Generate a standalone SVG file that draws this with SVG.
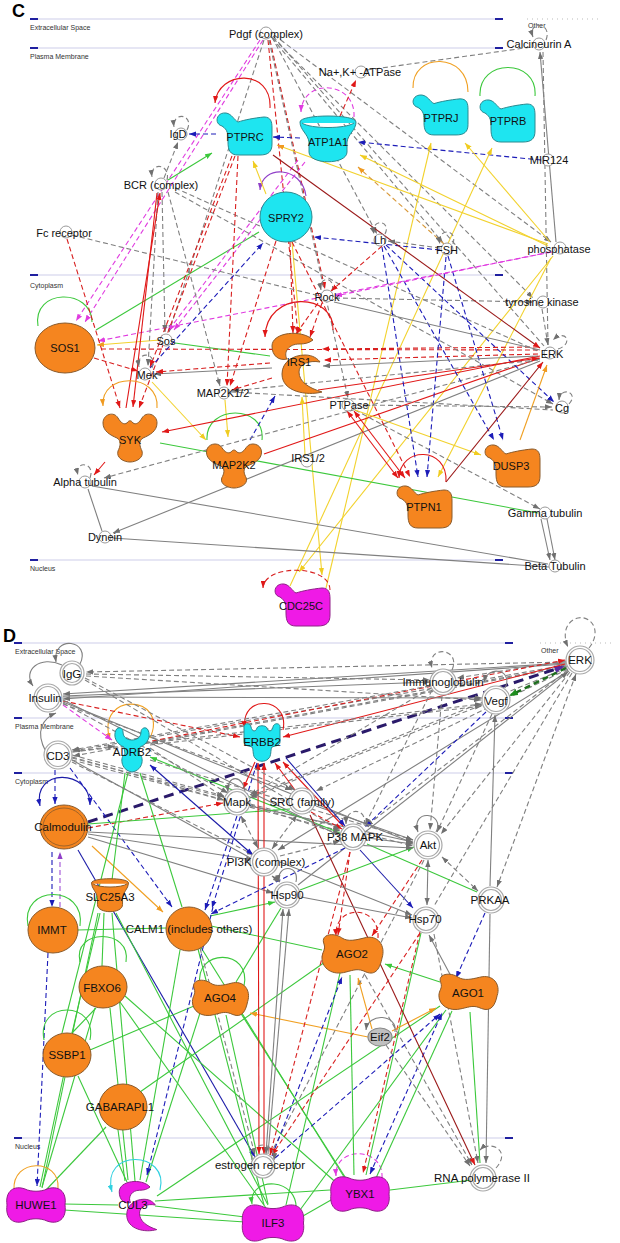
<svg xmlns="http://www.w3.org/2000/svg" xmlns:xlink="http://www.w3.org/1999/xlink" width="620" height="1243" viewBox="0 0 620 1243">
<style>
line,path.c{fill:none;stroke-width:1.1}
.g{stroke:#808080}
.gd{stroke:#808080;stroke-dasharray:5 3}
.r{stroke:#e01818}
.rd{stroke:#d82020;stroke-dasharray:5 3}
.dr{stroke:#9a1818}
.b{stroke:#1c1ca8}
.bd{stroke:#1c1cb8;stroke-dasharray:5 3}
.y{stroke:#f2d22e}
.o{stroke:#f0a022}
.od{stroke:#d89838;stroke-dasharray:5 3}
.gn{stroke:#3cc83c}
.md{stroke:#e03ce0;stroke-dasharray:5 3}
.pu{stroke:#9040c8}
.pud{stroke:#a050d8;stroke-dasharray:5 3}
.nv{stroke:#2a1a6a;stroke-width:3;stroke-dasharray:10 6}
.dgd{stroke:#1e6e1e;stroke-width:2.5;stroke-dasharray:6 4}
.cy{stroke:#30d0e0}
.ag{marker-end:url(#mg)} .sg{marker-start:url(#mg)}
.ar{marker-end:url(#mr)} .sr{marker-start:url(#mr)}
.ab{marker-end:url(#mb)} .sb{marker-start:url(#mb)}
.ay{marker-end:url(#my)} .ao{marker-end:url(#mo)}
.agn{marker-end:url(#mgn)} .am{marker-end:url(#mm)} .ap{marker-end:url(#mp)}
.anv{marker-end:url(#mnv)} .adg{marker-end:url(#mdg)} .acy{marker-end:url(#mcy)}
.t{font-family:"Liberation Sans",Arial,sans-serif;font-size:11px;fill:#111;text-anchor:middle}
.td{font-family:"Liberation Sans",Arial,sans-serif;font-size:11.5px;fill:#111;text-anchor:middle}
.rl{font-family:"Liberation Sans",Arial,sans-serif;font-size:7px;fill:#333}
.hd{font-family:"Liberation Sans",Arial,sans-serif;font-size:18px;font-weight:bold;fill:#000}
.rg{stroke:#dedef0;stroke-width:1.6}
.bdash{stroke:#2020a0;stroke-width:2}
.sm{fill:#fff;stroke:#9a9a9a;stroke-width:1}
.dc{fill:#fff;stroke:#a8a8a8;stroke-width:1.2}
.or{fill:#f5851f;stroke:#8a5a2a;stroke-width:1}
.cyn{fill:#1ee5f0;stroke:#2a8a90;stroke-width:1}
.mag{fill:#ef1ae6;stroke:#902088;stroke-width:1}
</style>
<defs>
<marker id="mg" viewBox="0 0 8 6" refX="8" refY="3" markerWidth="7" markerHeight="5.5" markerUnits="userSpaceOnUse" orient="auto-start-reverse"><path d="M0,0L8,3L0,6z" fill="#707070"/></marker>
<marker id="mr" viewBox="0 0 8 6" refX="8" refY="3" markerWidth="7" markerHeight="5.5" markerUnits="userSpaceOnUse" orient="auto-start-reverse"><path d="M0,0L8,3L0,6z" fill="#e01818"/></marker>
<marker id="mb" viewBox="0 0 8 6" refX="8" refY="3" markerWidth="7" markerHeight="5.5" markerUnits="userSpaceOnUse" orient="auto-start-reverse"><path d="M0,0L8,3L0,6z" fill="#1c1cb8"/></marker>
<marker id="my" viewBox="0 0 8 6" refX="8" refY="3" markerWidth="7" markerHeight="5.5" markerUnits="userSpaceOnUse" orient="auto-start-reverse"><path d="M0,0L8,3L0,6z" fill="#f0cc20"/></marker>
<marker id="mo" viewBox="0 0 8 6" refX="8" refY="3" markerWidth="7" markerHeight="5.5" markerUnits="userSpaceOnUse" orient="auto-start-reverse"><path d="M0,0L8,3L0,6z" fill="#f09a20"/></marker>
<marker id="mgn" viewBox="0 0 8 6" refX="8" refY="3" markerWidth="7" markerHeight="5.5" markerUnits="userSpaceOnUse" orient="auto-start-reverse"><path d="M0,0L8,3L0,6z" fill="#3cc83c"/></marker>
<marker id="mm" viewBox="0 0 8 6" refX="8" refY="3" markerWidth="7" markerHeight="5.5" markerUnits="userSpaceOnUse" orient="auto-start-reverse"><path d="M0,0L8,3L0,6z" fill="#e03ce0"/></marker>
<marker id="mp" viewBox="0 0 8 6" refX="8" refY="3" markerWidth="7" markerHeight="5.5" markerUnits="userSpaceOnUse" orient="auto-start-reverse"><path d="M0,0L8,3L0,6z" fill="#9040c8"/></marker>
<marker id="mnv" viewBox="0 0 8 6" refX="6" refY="3" markerWidth="10" markerHeight="8" markerUnits="userSpaceOnUse" orient="auto"><path d="M0,0L8,3L0,6z" fill="#5a2aa0"/></marker>
<marker id="mdg" viewBox="0 0 8 6" refX="6" refY="3" markerWidth="9" markerHeight="7" markerUnits="userSpaceOnUse" orient="auto"><path d="M0,0L8,3L0,6z" fill="#1e8e1e"/></marker>
<marker id="mcy" viewBox="0 0 8 6" refX="8" refY="3" markerWidth="7" markerHeight="5.5" markerUnits="userSpaceOnUse" orient="auto"><path d="M0,0L8,3L0,6z" fill="#30d0e0"/></marker>
<path id="phos" vector-effect="non-scaling-stroke" d="M-22,-8 C-30,-10 -28,-22 -18,-21 C-12,-20 -10,-14 -6,-12 C0,-14 10,-16 20,-17 C27,-17 28,-12 28,-6 L28,10 C28,18 24,21 16,21 L-6,21 C-14,21 -16,16 -16,8 C-16,0 -16,-4 -22,-8 Z"/>
<path id="kin" vector-effect="non-scaling-stroke" d="M-27,-14 C-27,-23 -16,-26 -12,-19 C-9,-14 -6,-12 -3,-14 C-1,-17 1,-17 3,-14 C6,-12 9,-14 12,-19 C16,-26 27,-23 27,-14 C27,-6 20,-2 13,1 C8,4 10,10 12,14 C14,21 6,25 0,25 C-6,25 -14,21 -12,14 C-10,10 -8,4 -13,1 C-20,-2 -27,-6 -27,-14 Z"/>
<path id="chan" vector-effect="non-scaling-stroke" d="M-28,-18 C-28,-26 28,-26 28,-18 C28,-10 20,-6 19,2 L19,12 C19,25 -19,25 -19,12 L-19,2 C-20,-6 -28,-10 -28,-18 Z M-26,-17 C-18,-11 18,-11 26,-17"/>
<path id="crs" vector-effect="non-scaling-stroke" d="M16,-22 C5,-33 -25,-30 -25,-16 C-25,-6 -18,-1 -10,-3 C-14,-10 -8,-18 2,-18 C8,-18 12,-19 16,-22 Z M25,30 C10,34 -15,30 -15,12 C-15,0 -4,-7 8,-7 C16,-7 21,-3 23,0 C12,-2 2,2 2,10 C2,20 12,26 25,30 Z"/>
<path id="tmr" vector-effect="non-scaling-stroke" d="M-16,-20 C-19,-14 -16,-6 -8,-3 L-7,4 C-12,6 -12,20 0,22 C12,20 12,6 7,4 L8,-3 C16,-6 19,-14 16,-20 C14,-24 9,-22 9,-18 C9,-12 4,-10 0,-10 C-4,-10 -9,-12 -9,-18 C-9,-22 -14,-24 -16,-20 Z"/>
<path id="erb" vector-effect="non-scaling-stroke" d="M-18,-14 C-19,-19 -12,-20 -11,-15 C-10,-10 -6,-10 -5,-14 C-4,-17 4,-17 5,-14 C6,-10 10,-10 11,-15 C12,-20 19,-19 18,-14 L18,0 C18,4 12,4 10,5 C8,8 10,14 6,17 C3,20 -3,20 -6,17 C-10,14 -8,8 -10,5 C-12,4 -18,4 -18,0 Z"/>
<path id="trl" vector-effect="non-scaling-stroke" d="M-28,-10 C-32,-20 -18,-22 -10,-16 C-4,-12 4,-14 12,-16 C26,-20 34,-8 30,4 C28,14 24,22 14,18 C6,14 2,16 -6,18 C-20,22 -30,14 -30,4 C-30,-2 -26,-4 -28,-10 Z"/>
<path id="bow" vector-effect="non-scaling-stroke" d="M-29,0 C-31,-14 -22,-20 -11,-16 C-5,-13 5,-13 11,-16 C22,-20 31,-14 29,0 C31,14 22,20 11,16 C5,13 -5,13 -11,16 C-22,20 -31,14 -29,0 Z"/>
</defs>

<g id="regions">
<text class="hd" x="12" y="17">C</text>
<line class="rg" x1="30" y1="19" x2="503" y2="19"/><line class="bdash" x1="30" y1="19" x2="38" y2="19"/><line class="bdash" x1="495" y1="19" x2="503" y2="19"/>
<line x1="527" y1="19" x2="600" y2="19" stroke="#bbb" stroke-width="1" stroke-dasharray="1 4"/>
<text class="rl" x="30" y="30">Extracellular Space</text>
<text class="rl" x="528" y="28" font-size="6">Other</text>
<line class="rg" x1="30" y1="48" x2="503" y2="48"/><line class="bdash" x1="30" y1="48" x2="38" y2="48"/><line class="bdash" x1="495" y1="48" x2="503" y2="48"/>
<text class="rl" x="30" y="59">Plasma Membrane</text>
<line class="rg" x1="30" y1="275" x2="503" y2="275"/><line class="bdash" x1="30" y1="275" x2="38" y2="275"/><line class="bdash" x1="495" y1="275" x2="503" y2="275"/>
<text class="rl" x="30" y="288">Cytoplasm</text>
<line class="rg" x1="30" y1="560" x2="503" y2="560"/><line class="bdash" x1="30" y1="560" x2="38" y2="560"/><line class="bdash" x1="495" y1="560" x2="503" y2="560"/>
<text class="rl" x="30" y="571">Nucleus</text>
<text class="hd" x="3" y="642">D</text>
<line class="rg" x1="14" y1="643" x2="513" y2="643"/><line class="bdash" x1="14" y1="643" x2="22" y2="643"/><line class="bdash" x1="505" y1="643" x2="513" y2="643"/>
<line x1="540" y1="643" x2="615" y2="643" stroke="#bbb" stroke-width="1" stroke-dasharray="1 4"/>
<text class="rl" x="15" y="654">Extracellular Space</text>
<text class="rl" x="541" y="653" font-size="6">Other</text>
<line class="rg" x1="14" y1="718" x2="513" y2="718"/><line class="bdash" x1="14" y1="718" x2="22" y2="718"/><line class="bdash" x1="505" y1="718" x2="513" y2="718"/>
<text class="rl" x="15" y="729">Plasma Membrane</text>
<line class="rg" x1="14" y1="773" x2="513" y2="773"/><line class="bdash" x1="14" y1="773" x2="22" y2="773"/><line class="bdash" x1="505" y1="773" x2="513" y2="773"/>
<text class="rl" x="15" y="784">Cytoplasm</text>
<line class="rg" x1="14" y1="1138" x2="513" y2="1138"/><line class="bdash" x1="14" y1="1138" x2="22" y2="1138"/><line class="bdash" x1="505" y1="1138" x2="513" y2="1138"/>
<text class="rl" x="15" y="1149">Nucleus</text>
</g>

<g id="connectors">
<line class="md am" x1="260" y1="40" x2="76" y2="321"/>
<line class="md am" x1="263" y1="40" x2="85" y2="322"/>
<line class="gd ag" x1="264" y1="40" x2="169" y2="332"/>
<line class="rd ar" x1="268" y1="40" x2="298" y2="334"/>
<line class="rd ar" x1="270" y1="40" x2="325" y2="289"/>
<line class="gd ag" x1="269" y1="40" x2="348" y2="398"/>
<line class="gd ag" x1="272" y1="38" x2="443" y2="243"/>
<line class="gd ag" x1="272" y1="37" x2="377" y2="234"/>
<line class="gd" x1="273" y1="36" x2="544" y2="346"/>
<line class="gd ag" x1="274" y1="35" x2="551" y2="242"/>
<line class="gd ag" x1="273" y1="38" x2="533" y2="298"/>
<line class="gd" x1="367" y1="70" x2="532" y2="47"/>
<path class="c gd ag" d="M546,40 C553,22 527,20 533,37"/>
<line class="g ag" x1="556" y1="242" x2="540" y2="52"/>
<line class="gd" x1="543" y1="52" x2="548" y2="345"/>
<line class="bd ab" x1="541" y1="160" x2="358" y2="142"/>
<line class="bd ab" x1="300" y1="138" x2="273" y2="137"/>
<line class="bd ab" x1="216" y1="134" x2="189" y2="134"/>
<line class="gd ag" x1="164" y1="178" x2="178" y2="142"/>
<path class="c gd ag" d="M187,130 C195,114 172,111 174,127"/>
<path class="c gd ag" d="M167,180 C171,164 150,161 152,177"/>
<line class="gn agn" x1="168" y1="180" x2="212" y2="153"/>
<path class="c r ar" d="M270,108 C272,68 218,70 215,103"/>
<path class="c md am" d="M354,117 C356,80 302,78 301,112"/>
<line class="rd ar" x1="340" y1="116" x2="356" y2="80"/>
<path class="c o" d="M413,88 C412,52 468,52 468,92"/>
<path class="c gn" d="M480,96 C478,58 538,58 535,96"/>
<path class="c pu ap" d="M306,196 C302,166 262,164 260,190"/>
<line class="y ay" x1="266" y1="194" x2="253" y2="161"/>
<line class="y ao" x1="548" y1="244" x2="277" y2="145"/>
<line class="y ay" x1="548" y1="246" x2="360" y2="155"/>
<line class="od ao" x1="444" y1="244" x2="358" y2="167"/>
<line class="y ay" x1="550" y1="242" x2="465" y2="143"/>
<line class="y ay" x1="326" y1="588" x2="431" y2="143"/>
<line class="y ay" x1="290" y1="586" x2="492" y2="148"/>
<line class="y ay" x1="553" y1="256" x2="299" y2="572"/>
<line class="y ay" x1="551" y1="258" x2="438" y2="477"/>
<line class="y ay" x1="292" y1="242" x2="322" y2="575"/>
<path class="c gn" d="M38,326 C32,288 92,288 92,322"/>
<line class="gn" x1="96" y1="330" x2="259" y2="232"/>
<line class="gn" x1="175" y1="343" x2="270" y2="356"/>
<line class="y ao" x1="160" y1="340" x2="97" y2="345"/>
<line class="md am" x1="552" y1="252" x2="98" y2="341"/>
<line class="md am" x1="305" y1="162" x2="174" y2="330"/>
<line class="md am" x1="298" y1="160" x2="168" y2="331"/>
<line class="rd" x1="538" y1="350" x2="98" y2="349"/>
<line class="rd ar" x1="538" y1="354" x2="324" y2="360"/>
<line class="rd ar" x1="538" y1="347" x2="322" y2="349"/>
<line class="rd ar" x1="94" y1="358" x2="138" y2="371"/>
<line class="rd ar" x1="67" y1="239" x2="120" y2="408"/>
<line class="gd" x1="72" y1="235" x2="320" y2="296"/>
<line class="gd" x1="175" y1="188" x2="540" y2="352"/>
<line class="gd ag" x1="175" y1="192" x2="553" y2="404"/>
<line class="gd ag" x1="162" y1="192" x2="165" y2="332"/>
<line class="gd ag" x1="158" y1="192" x2="148" y2="366"/>
<line class="gd ag" x1="168" y1="192" x2="220" y2="386"/>
<line class="r ar" x1="126" y1="408" x2="160" y2="193"/>
<line class="r ar" x1="157" y1="193" x2="133" y2="407"/>
<line class="rd ar" x1="232" y1="156" x2="150" y2="367"/>
<line class="rd ar" x1="235" y1="156" x2="139" y2="408"/>
<line class="rd ar" x1="238" y1="156" x2="227" y2="386"/>
<line class="rd ar" x1="276" y1="241" x2="230" y2="386"/>
<line class="rd ar" x1="290" y1="242" x2="293" y2="333"/>
<line class="bd ab" x1="150" y1="368" x2="263" y2="243"/>
<path class="c gd ag" d="M152,368 C158,352 136,350 139,367"/>
<line class="g ag" x1="272" y1="368" x2="154" y2="374"/>
<line class="rd ar" x1="270" y1="363" x2="156" y2="372"/>
<line class="rd ar" x1="272" y1="378" x2="232" y2="390"/>
<line class="y ay" x1="152" y1="382" x2="206" y2="440"/>
<line class="y ay" x1="225" y1="400" x2="228" y2="437"/>
<path class="c gn" d="M262,440 C266,404 205,404 207,440"/>
<line class="bd ab" x1="250" y1="440" x2="275" y2="396"/>
<path class="c o ao" d="M157,408 C160,372 100,372 103,406"/>
<line class="r ar" x1="540" y1="356" x2="162" y2="432"/>
<line class="r" x1="540" y1="358" x2="264" y2="454"/>
<line class="gn" x1="160" y1="443" x2="538" y2="513"/>
<line class="gd ag" x1="540" y1="359" x2="104" y2="478"/>
<line class="g ag" x1="540" y1="361" x2="113" y2="533"/>
<line class="g" x1="88" y1="489" x2="102" y2="531"/>
<line class="g" x1="92" y1="486" x2="548" y2="564"/>
<line class="g" x1="112" y1="538" x2="549" y2="567"/>
<line class="g ag" x1="541" y1="519" x2="550" y2="560"/>
<line class="g ag" x1="547" y1="519" x2="555" y2="560"/>
<path class="c gd ag" d="M90,478 C96,462 74,460 78,475"/>
<line class="r ar" x1="105" y1="462" x2="94" y2="475"/>
<line class="gd ag" x1="355" y1="410" x2="540" y2="509"/>
<line class="y ay" x1="355" y1="410" x2="481" y2="455"/>
<line class="r ar sr" x1="347" y1="411" x2="398" y2="478"/>
<line class="r ar sr" x1="354" y1="411" x2="405" y2="478"/>
<line class="y ay" x1="305" y1="455" x2="302" y2="397"/>
<line class="bd ab" x1="382" y1="247" x2="418" y2="477"/>
<line class="bd ab" x1="446" y1="257" x2="427" y2="477"/>
<line class="bd ab" x1="384" y1="246" x2="494" y2="440"/>
<line class="bd ab" x1="448" y1="256" x2="503" y2="440"/>
<line class="bd ab" x1="386" y1="245" x2="554" y2="402"/>
<line class="bd ab" x1="440" y1="250" x2="314" y2="237"/>
<path class="c r ar" d="M446,482 C448,446 400,446 399,478"/>
<line class="dr ar" x1="446" y1="482" x2="543" y2="362"/>
<line class="o ao" x1="520" y1="440" x2="547" y2="365"/>
<line class="rd ar" x1="292" y1="242" x2="410" y2="477"/>
<line class="gd ag" x1="335" y1="298" x2="533" y2="302"/>
<line class="g" x1="334" y1="302" x2="540" y2="350"/>
<path class="c gd ag" d="M332,291 C336,276 318,276 321,290"/>
<line class="rd ar" x1="322" y1="303" x2="310" y2="337"/>
<line class="rd ar" x1="318" y1="303" x2="296" y2="334"/>
<path class="c r ar" d="M333,330 C335,292 266,290 265,337"/>
<line class="gd ag" x1="356" y1="405" x2="552" y2="407"/>
<line class="gd" x1="231" y1="392" x2="553" y2="410"/>
<line class="dr ar" x1="273" y1="155" x2="540" y2="348"/>
<path class="c gd ag" d="M385,234 C392,220 370,218 374,234"/>
<path class="c gd ag" d="M453,244 C458,228 436,228 440,244"/>
<line class="gd ag" x1="440" y1="248" x2="388" y2="241"/>
<line class="gd ag" x1="542" y1="309" x2="548" y2="345"/>
<path class="c gd ag" d="M558,349 C574,344 566,328 553,340"/>
<path class="c gd ag" d="M569,404 C580,392 560,386 559,400"/>
<line class="md am" x1="550" y1="252" x2="335" y2="296"/>
<path class="c rd ar" d="M330,590 C330,564 264,564 263,588"/>
<line class="rd ar" x1="382" y1="246" x2="331" y2="291"/>
<line class="g ag" x1="538" y1="356" x2="323" y2="366"/>
<line class="gd ag" x1="538" y1="360" x2="232" y2="391"/>
<line class="r ar" x1="318" y1="390" x2="539" y2="358"/>

<line class="gd ag" x1="566" y1="662" x2="86" y2="672"/>
<line class="g ag" x1="566" y1="663" x2="63" y2="694"/>
<line class="g ag" x1="566" y1="664" x2="63" y2="699"/>
<line class="gd ag" x1="566" y1="665" x2="73" y2="751"/>
<line class="gd ag" x1="567" y1="666" x2="73" y2="756"/>
<line class="gd ag" x1="567" y1="667" x2="151" y2="743"/>
<line class="gd ag" x1="567" y1="668" x2="251" y2="796"/>
<line class="gd ag" x1="568" y1="669" x2="316" y2="791"/>
<line class="gd ag" x1="568" y1="670" x2="366" y2="826"/>
<line class="g ag" x1="569" y1="671" x2="278" y2="850"/>
<line class="gd ag" x1="570" y1="672" x2="441" y2="834"/>
<line class="gd" x1="572" y1="673" x2="434" y2="906"/>
<line class="gd ag sg" x1="576" y1="674" x2="497" y2="887"/>
<line class="gd ag" x1="566" y1="661" x2="457" y2="678"/>
<line class="dgd adg" x1="566" y1="668" x2="511" y2="695"/>
<line class="nv anv" x1="88" y1="822" x2="562" y2="667"/>
<line class="r ar" x1="565" y1="664" x2="283" y2="737"/>
<line class="rd ar" x1="152" y1="741" x2="565" y2="660"/>
<line class="g ag" x1="298" y1="885" x2="568" y2="672"/>
<path class="c gd ag" d="M589,648 C603,630 590,615 578,618 C566,621 562,634 568,647"/>
<path class="c g ag" d="M505,688 C514,670 488,664 484,682"/>
<path class="c gd ag" d="M452,670 C462,648 426,644 432,668"/>
<line class="gd ag" x1="86" y1="676" x2="481" y2="700"/>
<line class="gd ag" x1="73" y1="752" x2="482" y2="704"/>
<line class="g ag" x1="63" y1="697" x2="482" y2="698"/>
<line class="gd ag" x1="150" y1="745" x2="482" y2="706"/>
<line class="g ag" x1="63" y1="696" x2="430" y2="682"/>
<line class="gd ag" x1="86" y1="674" x2="430" y2="680"/>
<line class="bd ab" x1="486" y1="712" x2="365" y2="827"/>
<line class="gd ag" x1="492" y1="714" x2="437" y2="832"/>
<line class="gd ag" x1="442" y1="696" x2="430" y2="830"/>
<line class="g ag" x1="490" y1="886" x2="495" y2="715"/>
<line class="gd ag sg" x1="442" y1="857" x2="478" y2="891"/>
<line class="gn" x1="367" y1="844" x2="477" y2="892"/>
<line class="b ab" x1="360" y1="850" x2="413" y2="908"/>
<line class="gn agn" x1="300" y1="890" x2="414" y2="847"/>
<path class="c g ag" d="M436,832 C446,812 410,808 418,832"/>
<line class="g ag sg" x1="428" y1="860" x2="427" y2="905"/>
<line class="g ag" x1="63" y1="702" x2="413" y2="843"/>
<line class="gd ag" x1="72" y1="758" x2="413" y2="846"/>
<line class="g ag" x1="88" y1="832" x2="413" y2="848"/>
<line class="gd ag" x1="150" y1="760" x2="413" y2="840"/>
<line class="g ag" x1="250" y1="806" x2="413" y2="842"/>
<line class="g ag" x1="316" y1="806" x2="413" y2="840"/>
<line class="g ag" x1="368" y1="838" x2="413" y2="844"/>
<path class="c o ao" d="M150,738 C170,695 95,690 110,740"/>
<line class="md am" x1="63" y1="705" x2="112" y2="740"/>
<line class="rd ar" x1="63" y1="701" x2="240" y2="737"/>
<path class="c r ar" d="M283,730 C290,696 240,694 245,728"/>
<path class="c g ag" d="M62,665 C40,655 22,670 33,686"/>
<path class="c g ag" d="M80,664 C92,640 52,634 56,662"/>
<path class="c g ag" d="M46,752 C34,730 44,718 56,713"/>
<line class="gd ag" x1="72" y1="752" x2="115" y2="746"/>
<line class="gd ag" x1="72" y1="757" x2="224" y2="800"/>
<line class="gd ag" x1="72" y1="755" x2="224" y2="796"/>
<line class="gd ag" x1="72" y1="760" x2="340" y2="831"/>
<line class="gd ag" x1="72" y1="762" x2="254" y2="855"/>
<line class="bd ab" x1="55" y1="770" x2="55" y2="804"/>
<path class="c b ab sb" d="M40,806 C32,768 90,768 90,805"/>
<line class="bd ab" x1="70" y1="768" x2="172" y2="907"/>
<line class="o ao" x1="92" y1="846" x2="163" y2="912"/>
<line class="rd ar" x1="88" y1="828" x2="223" y2="803"/>
<line class="gn" x1="88" y1="824" x2="290" y2="809"/>
<line class="g ag" x1="88" y1="834" x2="253" y2="860"/>
<line class="g ag" x1="88" y1="837" x2="273" y2="893"/>
<line class="b ab" x1="78" y1="850" x2="255" y2="1157"/>
<line class="pud ap" x1="60" y1="907" x2="60" y2="852"/>
<line class="bd ab" x1="52" y1="852" x2="52" y2="907"/>
<line class="bd ab" x1="48" y1="953" x2="37" y2="1186"/>
<path class="c gn" d="M28,926 C20,884 86,884 80,926"/>
<line class="gn" x1="77" y1="930" x2="166" y2="928"/>
<line class="gn" x1="104" y1="913" x2="102" y2="966"/>
<line class="gn" x1="100" y1="913" x2="72" y2="1033"/>
<line class="gn" x1="98" y1="913" x2="40" y2="1187"/>
<line class="gn" x1="112" y1="913" x2="135" y2="1181"/>
<line class="gn" x1="116" y1="913" x2="268" y2="1205"/>
<line class="gn" x1="128" y1="773" x2="62" y2="1033"/>
<line class="gn" x1="140" y1="773" x2="182" y2="907"/>
<line class="gn" x1="125" y1="773" x2="112" y2="880"/>
<line class="gn agn" x1="340" y1="833" x2="150" y2="757"/>
<line class="b ab sb" x1="150" y1="765" x2="253" y2="855"/>
<line class="gd ag" x1="150" y1="748" x2="225" y2="798"/>
<path class="c gn" d="M80,962 C72,928 132,928 126,962"/>
<path class="c gn" d="M44,1040 C36,1000 98,1000 90,1040"/>
<line class="gn" x1="96" y1="1008" x2="72" y2="1033"/>
<line class="gn" x1="95" y1="1008" x2="42" y2="1187"/>
<line class="gn" x1="110" y1="1008" x2="128" y2="1180"/>
<line class="gn" x1="120" y1="1002" x2="266" y2="1208"/>
<line class="gn" x1="125" y1="996" x2="340" y2="1186"/>
<line class="gn" x1="90" y1="1050" x2="194" y2="1006"/>
<line class="gn" x1="65" y1="1077" x2="42" y2="1188"/>
<line class="gn" x1="78" y1="1076" x2="127" y2="1182"/>
<line class="gn" x1="118" y1="1130" x2="125" y2="1181"/>
<line class="gn" x1="106" y1="1127" x2="46" y2="1190"/>
<line class="gn" x1="140" y1="1092" x2="325" y2="962"/>
<line class="gn" x1="180" y1="950" x2="140" y2="1180"/>
<line class="gn" x1="200" y1="946" x2="346" y2="1180"/>
<line class="gn" x1="211" y1="926" x2="322" y2="950"/>
<line class="gn agn" x1="210" y1="916" x2="275" y2="902"/>
<line class="gn" x1="198" y1="949" x2="264" y2="1205"/>
<line class="gn" x1="236" y1="982" x2="281" y2="908"/>
<line class="gn" x1="200" y1="1013" x2="146" y2="1182"/>
<line class="gn" x1="240" y1="1012" x2="347" y2="1180"/>
<line class="gn" x1="226" y1="1015" x2="268" y2="1204"/>
<path class="c gn" d="M200,985 C194,948 252,948 244,986"/>
<line class="o ao" x1="368" y1="1037" x2="250" y2="1013"/>
<line class="bd ab" x1="213" y1="907" x2="147" y2="1175"/>
<path class="c cy acy" d="M160,1190 C170,1150 100,1148 112,1192"/>
<path class="c o" d="M14,1190 C12,1158 60,1158 58,1188"/>
<line class="gn" x1="64" y1="1204" x2="118" y2="1205"/>
<line class="gn" x1="64" y1="1210" x2="245" y2="1222"/>
<line class="gn" x1="155" y1="1206" x2="245" y2="1217"/>
<line class="gn" x1="155" y1="1201" x2="330" y2="1190"/>
<line class="gn" x1="157" y1="1196" x2="440" y2="1006"/>
<path class="c gn agn" d="M296,1212 C300,1176 248,1176 252,1204"/>
<line class="gn" x1="303" y1="1216" x2="331" y2="1200"/>
<line class="gn" x1="300" y1="1210" x2="446" y2="1010"/>
<line class="gn" x1="286" y1="1205" x2="340" y2="973"/>
<line class="gn" x1="390" y1="1190" x2="472" y2="1180"/>
<path class="c md am" d="M382,1178 C384,1146 334,1146 336,1176"/>
<line class="bd ab sb" x1="370" y1="1174" x2="442" y2="1013"/>
<line class="rd ar" x1="420" y1="932" x2="363" y2="1173"/>
<line class="gn" x1="354" y1="1175" x2="350" y2="975"/>
<line class="gn" x1="366" y1="1175" x2="421" y2="933"/>
<line class="gn" x1="376" y1="1178" x2="452" y2="1011"/>
<line class="o ao" x1="372" y1="1029" x2="358" y2="978"/>
<line class="o ao" x1="392" y1="1031" x2="436" y2="1008"/>
<path class="c g ag" d="M395,1032 C398,1014 368,1012 366,1030"/>
<line class="gn agn" x1="440" y1="982" x2="385" y2="964"/>
<line class="bd ab" x1="485" y1="913" x2="456" y2="978"/>
<line class="g ag" x1="452" y1="978" x2="429" y2="935"/>
<line class="gn" x1="470" y1="1012" x2="480" y2="1163"/>
<line class="g ag" x1="490" y1="914" x2="486" y2="1163"/>
<line class="gd ag" x1="434" y1="934" x2="478" y2="1163"/>
<line class="gd ag" x1="365" y1="975" x2="472" y2="1165"/>
<line class="dr ar" x1="310" y1="815" x2="475" y2="1165"/>
<line class="gd ag" x1="386" y1="1045" x2="470" y2="1166"/>
<path class="c gd ag" d="M496,1168 C512,1150 490,1140 480,1150"/>
<path class="c rd ar" d="M378,938 C380,904 334,904 336,936"/>
<line class="rd ar" x1="350" y1="852" x2="338" y2="935"/>
<line class="rd ar" x1="422" y1="860" x2="372" y2="936"/>
<line class="gd" x1="424" y1="860" x2="270" y2="1155"/>
<line class="r ar sr" x1="258" y1="763" x2="259" y2="1154"/>
<line class="r ar sr" x1="264" y1="763" x2="264" y2="1154"/>
<line class="g ag sg" x1="283" y1="909" x2="266" y2="1154"/>
<line class="g ag" x1="268" y1="1154" x2="289" y2="909"/>
<line class="gd ag" x1="200" y1="948" x2="255" y2="1155"/>
<line class="rd ar" x1="350" y1="852" x2="270" y2="1155"/>
<line class="bd ab" x1="272" y1="1156" x2="342" y2="977"/>
<line class="bd ab" x1="275" y1="1158" x2="440" y2="1014"/>
<line class="rd ar" x1="420" y1="933" x2="272" y2="1155"/>
<path class="c gd ag" d="M252,1160 C250,1140 276,1140 274,1160"/>
<line class="r ar" x1="255" y1="762" x2="243" y2="789"/>
<line class="r ar" x1="295" y1="790" x2="275" y2="763"/>
<line class="r ar" x1="343" y1="826" x2="283" y2="762"/>
<line class="b ab" x1="286" y1="758" x2="345" y2="826"/>
<line class="bd ab" x1="257" y1="763" x2="212" y2="908"/>
<line class="bd ab" x1="345" y1="848" x2="211" y2="914"/>
<line class="bd ab" x1="237" y1="816" x2="205" y2="910"/>
<line class="gd ag sg" x1="241" y1="816" x2="258" y2="848"/>
<line class="gd ag sg" x1="297" y1="815" x2="272" y2="849"/>
<line class="gd ag sg" x1="272" y1="876" x2="280" y2="882"/>
<line class="gd ag" x1="251" y1="805" x2="340" y2="834"/>
<path class="c g ag" d="M245,793 C244,774 226,774 228,792"/>
<path class="c gd ag" d="M364,825 C368,808 346,806 346,824"/>
<path class="c g ag" d="M296,882 C300,864 276,864 279,882"/>
<line class="g ag" x1="301" y1="897" x2="412" y2="918"/>
<line class="g ag" x1="280" y1="862" x2="412" y2="915"/>
<line class="gd ag" x1="280" y1="856" x2="340" y2="841"/>
<line class="rd ar" x1="311" y1="812" x2="342" y2="829"/>
<line class="g" x1="63" y1="700" x2="340" y2="836"/>
<line class="g" x1="72" y1="760" x2="254" y2="860"/>
<line class="gd ag" x1="85" y1="680" x2="340" y2="830"/>
<line class="gd ag" x1="85" y1="678" x2="295" y2="790"/>
<line class="gd ag" x1="63" y1="703" x2="228" y2="793"/>
<line class="gd ag" x1="63" y1="704" x2="292" y2="790"/>
<line class="gd ag" x1="432" y1="690" x2="365" y2="825"/>
<line class="gd ag" x1="431" y1="688" x2="250" y2="795"/>
<line class="gd ag" x1="482" y1="705" x2="250" y2="798"/>
<line class="gd ag" x1="430" y1="686" x2="72" y2="750"/>
</g>

<g id="n-pdgf"><circle class="sm" cx="266" cy="33" r="6"/><text class="t" x="266" y="38">Pdgf (complex)</text></g>
<g id="n-nak"><circle class="sm" cx="361" cy="72" r="6"/><text class="t" x="360" y="76">Na+,K+ -ATPase</text></g>
<g id="n-calcineurin"><circle class="sm" cx="539" cy="44" r="6"/><text class="t" x="539" y="48">Calcineurin A</text></g>
<g id="n-ptprc"><use href="#phos" class="cyn" transform="translate(244,134)"/><text class="t" x="245" y="141">PTPRC</text></g>
<g id="n-atp1a1"><use href="#chan" class="cyn" transform="translate(328,140)"/><text class="t" x="328" y="146">ATP1A1</text></g>
<g id="n-ptprj"><use href="#phos" class="cyn" transform="translate(440,115) scale(1,0.95)"/><text class="t" x="441" y="122">PTPRJ</text></g>
<g id="n-ptprb"><use href="#phos" class="cyn" transform="translate(507,121)"/><text class="t" x="508" y="125">PTPRB</text></g>
<g id="n-igd"><circle class="sm" cx="181" cy="134" r="6"/><text class="t" x="178" y="138">IgD</text></g>
<g id="n-bcr"><circle class="sm" cx="161" cy="184" r="6"/><text class="t" x="161" y="189">BCR (complex)</text></g>
<g id="n-spry2"><ellipse class="cyn" cx="286" cy="217" rx="26" ry="25"/><text class="t" x="286" y="222">SPRY2</text></g>
<g id="n-mir124"><circle class="sm" cx="548" cy="160" r="6"/><text class="t" x="549" y="164">MIR124</text></g>
<g id="n-fc"><circle class="sm" cx="66" cy="232" r="6"/><text class="t" x="64" y="237">Fc receptor</text></g>
<g id="n-lh"><circle class="sm" cx="380" cy="240" r="6"/><text class="t" x="380" y="244">Lh</text></g>
<g id="n-fsh"><circle class="sm" cx="447" cy="249" r="6"/><text class="t" x="447" y="254">FSH</text></g>
<g id="n-phosphatase"><circle class="sm" cx="560" cy="248" r="6"/><text class="t" x="559" y="253">phosphatase</text></g>
<g id="n-rock"><circle class="sm" cx="327" cy="296" r="6"/><text class="t" x="327" y="301">Rock</text></g>
<g id="n-tyr"><circle class="sm" cx="543" cy="302" r="6"/><text class="t" x="542" y="306">tyrosine kinase</text></g>
<g id="n-sos1"><ellipse class="or" cx="65" cy="348" rx="30" ry="25"/><text class="t" x="65" y="352">SOS1</text></g>
<g id="n-sos"><circle class="sm" cx="166" cy="340" r="6"/><text class="t" x="166" y="345">Sos</text></g>
<g id="n-irs1"><use href="#crs" class="or" transform="translate(297,362)"/><text class="t" x="299" y="366">IRS1</text></g>
<g id="n-erk-c"><circle class="sm" cx="550" cy="353" r="6"/><text class="t" x="552" y="358">ERK</text></g>
<g id="n-mek"><circle class="sm" cx="145" cy="374" r="6"/><text class="t" x="147" y="379">Mek</text></g>
<g id="n-map2k12"><circle class="sm" cx="224" cy="393" r="6"/><text class="t" x="223" y="397">MAP2K1/2</text></g>
<g id="n-ptpase"><circle class="sm" cx="348" cy="405" r="6"/><text class="t" x="349" y="409">PTPase</text></g>
<g id="n-cg"><circle class="sm" cx="562" cy="407" r="6"/><text class="t" x="562" y="412">Cg</text></g>
<g id="n-syk"><use href="#kin" class="or" transform="translate(130,437)"/><text class="t" x="130" y="444">SYK</text></g>
<g id="n-map2k2"><use href="#kin" class="or" transform="translate(234,465) scale(1.02,0.92)"/><text class="t" x="234" y="469">MAP2K2</text></g>
<g id="n-irs12"><circle class="sm" cx="307" cy="461" r="6"/><text class="t" x="308" y="462">IRS1/2</text></g>
<g id="n-dusp3"><use href="#phos" class="or" transform="translate(512,466)"/><text class="t" x="511" y="470">DUSP3</text></g>
<g id="n-alpha"><circle class="sm" cx="85" cy="482" r="6"/><text class="t" x="85" y="486">Alpha tubulin</text></g>
<g id="n-ptpn1"><use href="#phos" class="or" transform="translate(424,507)"/><text class="t" x="424" y="511">PTPN1</text></g>
<g id="n-gamma"><circle class="sm" cx="545" cy="513" r="6"/><text class="t" x="545" y="517">Gamma tubulin</text></g>
<g id="n-dynein"><circle class="sm" cx="105" cy="537" r="6"/><text class="t" x="105" y="541">Dynein</text></g>
<g id="n-beta"><circle class="sm" cx="555" cy="566" r="6"/><text class="t" x="555" y="570">Beta Tubulin</text></g>
<g id="n-cdc25c"><use href="#phos" class="mag" transform="translate(302,605)"/><text class="t" x="301" y="610">CDC25C</text></g>

<g id="n-igg"><circle class="dc" cx="72" cy="673" r="12"/><circle class="dc" cx="72" cy="673" r="9.5"/><text class="td" x="72" y="678">IgG</text></g>
<g id="n-insulin"><circle class="dc" cx="48" cy="698" r="14"/><circle class="dc" cx="48" cy="698" r="11.5"/><text class="td" x="45" y="702">Insulin</text></g>
<g id="n-cd3"><circle class="dc" cx="58" cy="755" r="14"/><circle class="dc" cx="58" cy="755" r="11.5"/><text class="td" x="58" y="760">CD3</text></g>
<g id="n-adrb2"><use href="#tmr" class="cyn" transform="translate(132,750)"/><text class="td" x="132" y="756">ADRB2</text></g>
<g id="n-erbb2"><use href="#erb" class="cyn" transform="translate(262,742)"/><text class="td" x="262" y="746">ERBB2</text></g>
<g id="n-immuno"><circle class="dc" cx="443" cy="682" r="13"/><circle class="dc" cx="443" cy="682" r="10.5"/><text class="td" x="443" y="686">Immunoglobulin</text></g>
<g id="n-vegf"><circle class="dc" cx="496" cy="700" r="14"/><circle class="dc" cx="496" cy="700" r="11.5"/><text class="td" x="496" y="705">Vegf</text></g>
<g id="n-erk-d"><circle class="dc" cx="580" cy="660" r="14"/><circle class="dc" cx="580" cy="660" r="11.5"/><text class="td" x="580" y="664">ERK</text></g>
<g id="n-mapk"><circle class="dc" cx="237" cy="802" r="13"/><circle class="dc" cx="237" cy="802" r="10.5"/><text class="td" x="237" y="806">Mapk</text></g>
<g id="n-src"><circle class="dc" cx="302" cy="801" r="13"/><circle class="dc" cx="302" cy="801" r="10.5"/><text class="td" x="302" y="806">SRC (family)</text></g>
<g id="n-p38"><circle class="dc" cx="353" cy="837" r="13"/><circle class="dc" cx="353" cy="837" r="10.5"/><text class="td" x="355" y="841">P38 MAPK</text></g>
<g id="n-akt"><circle class="dc" cx="428" cy="845" r="14"/><circle class="dc" cx="428" cy="845" r="11.5"/><text class="td" x="428" y="849">Akt</text></g>
<g id="n-pi3k"><circle class="dc" cx="264" cy="862" r="14"/><circle class="dc" cx="264" cy="862" r="11.5"/><text class="td" x="266" y="866">PI3K (complex)</text></g>
<g id="n-hsp90"><circle class="dc" cx="287" cy="895" r="13"/><circle class="dc" cx="287" cy="895" r="10.5"/><text class="td" x="287" y="899">Hsp90</text></g>
<g id="n-prkaa"><circle class="dc" cx="491" cy="900" r="13"/><circle class="dc" cx="491" cy="900" r="10.5"/><text class="td" x="490" y="904">PRKAA</text></g>
<g id="n-hsp70"><circle class="dc" cx="426" cy="920" r="13"/><circle class="dc" cx="426" cy="920" r="10.5"/><text class="td" x="425" y="923">Hsp70</text></g>
<g id="n-calmodulin"><ellipse class="or" cx="64" cy="827" rx="24" ry="22"/><ellipse cx="64" cy="827" rx="21" ry="19" fill="none" stroke="#8a5a2a" stroke-width="0.8"/><text class="td" x="63" y="831">Calmodulin</text></g>
<g id="n-slc25a3"><use href="#chan" class="or" transform="translate(110,896) scale(0.66,0.72)"/><text class="td" x="110" y="901">SLC25A3</text></g>
<g id="n-immt"><ellipse class="or" cx="53" cy="930" rx="25" ry="23"/><text class="td" x="52" y="934">IMMT</text></g>
<g id="n-calm1"><ellipse class="or" cx="189" cy="929" rx="23" ry="22"/><text class="td" x="189" y="933">CALM1 (includes others)</text></g>
<g id="n-fbxo6"><ellipse class="or" cx="103" cy="987" rx="24" ry="21"/><text class="td" x="102" y="992">FBXO6</text></g>
<g id="n-ago4"><use href="#trl" class="or" transform="translate(220,998) scale(0.92,0.92)"/><text class="td" x="220" y="1002">AGO4</text></g>
<g id="n-ssbp1"><ellipse class="or" cx="67" cy="1055" rx="24" ry="22"/><text class="td" x="67" y="1059">SSBP1</text></g>
<g id="n-gabarapl1"><ellipse class="or" cx="123" cy="1107" rx="24" ry="23"/><text class="td" x="120" y="1111">GABARAPL1</text></g>
<g id="n-ago2"><use href="#trl" class="or" transform="translate(352,954)"/><text class="td" x="352" y="958">AGO2</text></g>
<g id="n-ago1"><use href="#trl" class="or" transform="translate(468,992) scale(0.97,0.92)"/><text class="td" x="468" y="997">AGO1</text></g>
<g id="n-eif2"><ellipse cx="380" cy="1037" rx="12" ry="9" fill="#c0c0c0" stroke="#888" stroke-width="1.2"/><text class="td" x="380" y="1041">Eif2</text></g>
<g id="n-estrogen"><circle class="dc" cx="263" cy="1166" r="12"/><circle class="dc" cx="263" cy="1166" r="9.5"/><text class="td" x="260" y="1169">estrogen receptor</text></g>
<g id="n-rnapol"><circle class="dc" cx="483" cy="1178" r="13"/><circle class="dc" cx="483" cy="1178" r="10.5"/><text class="td" x="482" y="1182">RNA polymerase II</text></g>
<g id="n-huwe1"><use href="#bow" class="mag" transform="translate(36,1205)"/><text class="td" x="36" y="1209">HUWE1</text></g>
<g id="n-cul3"><use href="#crs" class="mag" transform="translate(138,1205) scale(0.75,0.82)"/><text class="td" x="133" y="1209">CUL3</text></g>
<g id="n-ilf3"><use href="#bow" class="mag" transform="translate(273,1223) scale(1.05,1.05)"/><text class="td" x="273" y="1227">ILF3</text></g>
<g id="n-ybx1"><use href="#bow" class="mag" transform="translate(360,1194)"/><text class="td" x="360" y="1198">YBX1</text></g>
</svg>
